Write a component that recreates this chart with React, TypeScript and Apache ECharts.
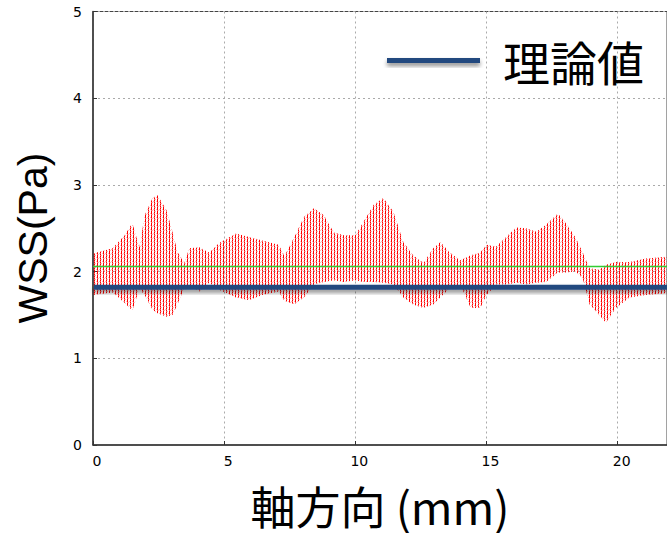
import React, { useEffect, useRef } from 'react';
import * as echarts from 'echarts';

// Axial position (mm) at which the envelope of the simulated WSS cloud was read
const xPos = [0, 0.75, 1.2, 1.5, 1.77, 1.97, 2.27, 2.46, 2.8, 3.03, 3.22, 3.48, 3.67, 4.05, 4.43, 4.81, 5.45, 5.95, 6.45, 7.08, 7.3, 7.66, 8.04, 8.42, 8.8, 9.18, 9.56, 10.0, 10.3, 10.7, 11.07, 11.45, 11.83, 12.2, 12.6, 12.97, 13.24, 13.6, 14.0, 14.4, 14.76, 15.0, 15.37, 15.75, 16.13, 16.5, 16.9, 17.27, 17.72, 18.0, 18.4, 18.67, 18.93, 19.3, 19.55, 19.93, 20.45, 21.07, 21.88];
// Upper edge of the cloud (Pa)
const upper = [2.21, 2.27, 2.42, 2.56, 2.28, 2.65, 2.85, 2.88, 2.71, 2.46, 2.23, 2.10, 2.27, 2.28, 2.22, 2.33, 2.44, 2.40, 2.36, 2.31, 2.18, 2.39, 2.63, 2.73, 2.65, 2.45, 2.42, 2.42, 2.57, 2.77, 2.85, 2.69, 2.34, 2.19, 2.10, 2.27, 2.34, 2.22, 2.13, 2.19, 2.22, 2.31, 2.29, 2.40, 2.51, 2.50, 2.46, 2.54, 2.67, 2.57, 2.39, 2.22, 2.04, 2.02, 2.08, 2.11, 2.11, 2.15, 2.17];
// Lower edge of the cloud (Pa)
const lower = [1.73, 1.76, 1.64, 1.55, 1.80, 1.73, 1.56, 1.52, 1.48, 1.50, 1.62, 1.81, 1.84, 1.77, 1.87, 1.79, 1.70, 1.67, 1.73, 1.77, 1.66, 1.62, 1.70, 1.85, 1.88, 1.90, 1.88, 1.90, 1.88, 1.88, 1.87, 1.85, 1.70, 1.62, 1.58, 1.62, 1.70, 1.81, 1.85, 1.58, 1.58, 1.73, 1.85, 1.85, 1.87, 1.85, 1.87, 1.88, 1.99, 1.99, 2.0, 1.92, 1.62, 1.50, 1.41, 1.58, 1.70, 1.73, 1.75];

const theoryValue = 1.82; // 理論値
const meanValue = 2.06;   // green reference line
const xMin = 0;
const xMax = 21.88;
const xTickLabels = [0, 5, 10, 15, 20];
const yTickLabels = [0, 1, 2, 3, 4, 5];

// dotted texture tile: R = solid red, r = medium, p = pale pink, . = empty
const DOT_TILE = [
  '.R..R.',
  'pR.pr.',
  '.rp.R.',
  '.R..rp',
];

function makeDots(): HTMLCanvasElement {
  const c = document.createElement('canvas');
  c.width = DOT_TILE[0].length;
  c.height = DOT_TILE.length;
  const ctx = c.getContext('2d')!;
  const alpha: Record<string, number> = { R: 1, r: 0.6, p: 0.28 };
  DOT_TILE.forEach((row, y) => {
    row.split('').forEach((ch, x) => {
      if (ch === '.') return;
      ctx.fillStyle = `rgba(255,0,0,${alpha[ch]})`;
      ctx.fillRect(x, y, 1, 1);
    });
  });
  return c;
}

export default function App() {
  const ref = useRef<HTMLDivElement>(null);
  useEffect(() => {
    if (!ref.current) return;
    const chart = echarts.init(ref.current, null, { renderer: 'svg' });
    const dots = makeDots();
    const pattern: any = { image: dots, repeat: 'repeat', imageWidth: dots.width, imageHeight: dots.height };
    const cloudRows = xPos.map((x, i) => [x, lower[i], upper[i]]);
    const labelFont = 'DejaVu Sans';
    const blue = '#22497f';
    const shadow = { shadowBlur: 4, shadowColor: 'rgba(0,0,0,0.45)', shadowOffsetY: 3 };
    chart.setOption({
      animation: false,
      backgroundColor: '#fff',
      grid: {
        left: 93, right: -2, top: 11.5, bottom: 88,
        show: true, borderColor: '#444', borderWidth: 1, backgroundColor: 'transparent',
      },
      legend: {
        data: [{ name: '理論値', icon: 'rect' }],
        left: 387, top: 37, padding: 0,
        itemWidth: 93, itemHeight: 5,
        itemStyle: { color: blue, ...shadow },
        textStyle: { fontSize: 47, lineHeight: 47, color: '#000', fontFamily: 'Noto Sans CJK JP', padding: [0, 0, 0, 18] },
      },
      graphic: [
        {
          type: 'text', x: 33, y: 238, rotation: Math.PI / 2,
          style: { text: 'WSS(Pa)', fontSize: 41, fontFamily: 'Liberation Sans', fill: '#000', align: 'center', verticalAlign: 'middle' },
        },
      ],
      xAxis: {
        type: 'value', min: xMin, max: xMax, interval: 5,
        name: '軸方向 (mm)', nameLocation: 'middle', nameGap: 39,
        nameTextStyle: { fontSize: 45, lineHeight: 42, color: '#000', fontFamily: 'Noto Sans CJK JP' },
        axisLine: { lineStyle: { color: '#333', width: 1.5 } },
        axisTick: { inside: true, length: 4, lineStyle: { color: '#333' } },
        axisLabel: {
          color: '#000', fontSize: 14, fontFamily: labelFont, margin: 9, padding: [0, 0, 0, 8],
          showMaxLabel: false,
          formatter: (v: number) => (xTickLabels.includes(v) ? String(v) : ''),
        },
        splitLine: { show: true, lineStyle: { color: '#aaa', type: [2, 3] } },
      },
      yAxis: {
        type: 'value', min: 0, max: 5, interval: 1,
        axisLine: { show: true, lineStyle: { color: '#333', width: 1.5 } },
        axisTick: { show: true, inside: true, length: 4, lineStyle: { color: '#333' } },
        axisLabel: {
          color: '#000', fontSize: 14, fontFamily: labelFont, margin: 11,
          formatter: (v: number) => (yTickLabels.includes(v) ? String(v) : ''),
        },
        splitLine: { show: true, lineStyle: { color: '#aaa', type: [2, 3] } },
      },
      series: [
        {
          type: 'custom',
          name: 'WSS',
          data: cloudRows,
          encode: { x: 0, y: [1, 2] },
          renderItem: (params: any, api: any) => {
            if (params.dataIndex !== 0) return null;
            const pts: number[][] = [];
            for (let i = 0; i < xPos.length; i++) pts.push(api.coord([xPos[i], upper[i]]));
            for (let i = xPos.length - 1; i >= 0; i--) pts.push(api.coord([xPos[i], lower[i]]));
            return { type: 'polygon', shape: { points: pts }, style: { fill: pattern, stroke: null } };
          },
          z: 1,
        },
        {
          type: 'line',
          name: 'mean',
          data: [[xMin, meanValue], [xMax, meanValue]],
          symbol: 'none',
          lineStyle: { color: '#33cc33', width: 1.5 },
          z: 2,
        },
        {
          type: 'custom',
          name: '理論値',
          data: [[xMin, xMax, theoryValue]],
          encode: { x: [0, 1], y: 2 },
          itemStyle: { color: blue },
          renderItem: (params: any, api: any) => {
            const a = api.coord([api.value(0), api.value(2)]);
            const b = api.coord([api.value(1), api.value(2)]);
            return {
              type: 'rect',
              shape: { x: a[0] + 1, y: a[1] - 2.5, width: b[0] - a[0], height: 5 },
              style: { fill: blue, ...shadow },
            };
          },
          z: 3,
        },
      ],
    });
    return () => chart.dispose();
  }, []);
  return <div ref={ref} style={{ position: 'fixed', left: 0, top: 0, width: 667, height: 533 }} />;
}
